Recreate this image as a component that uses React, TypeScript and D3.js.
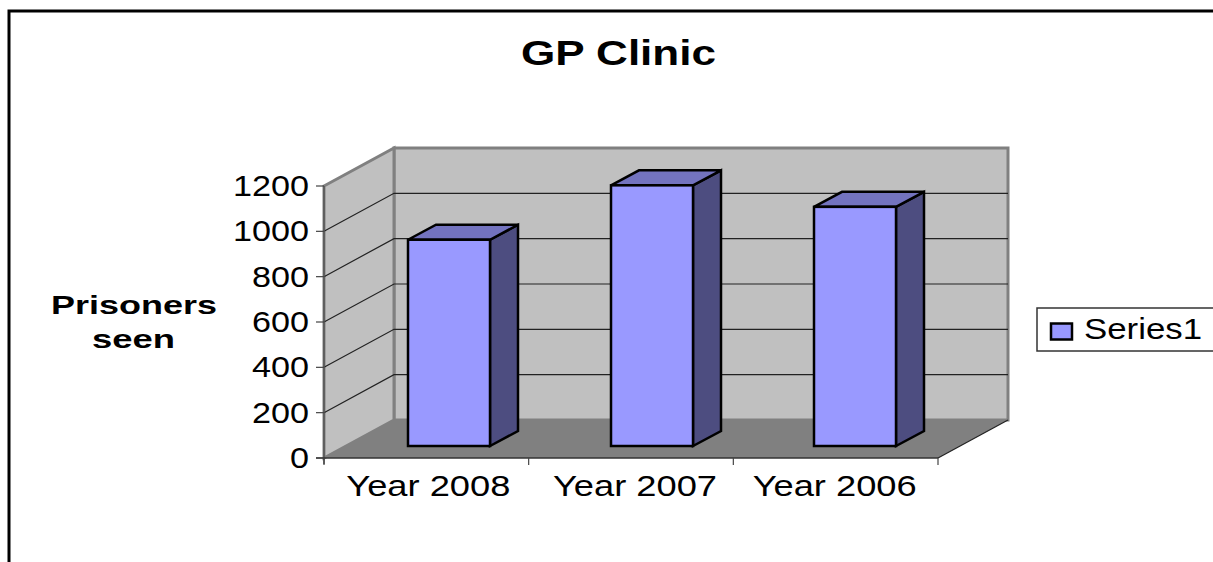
import React from "react";
import * as d3 from "d3";

const categories = ["Year 2008", "Year 2007", "Year 2006"];
const seriesValues = [910, 1150, 1055];
const yTicks = [0, 200, 400, 600, 800, 1000, 1200];
const seriesName = "Series1";

const FONT = "'Liberation Sans', Arial, sans-serif";
const x0 = 324, x1 = 938, yBase = 458, yTop = 186;
const dx = 70, dy = -38;
const barDx = 28, barDy = -15;
const barBase = 446, barW = 82;
const labelNudge = [2, 4, -1];

export default function App() {
  const yFront = d3.scaleLinear().domain([0, 1200]).range([yBase, yTop]);
  const xBand = d3.scaleBand().domain(categories).range([x0, x1]);
  const barCenter = d3.scalePoint().domain(categories).range([449, 855]);
  const pts = (a: number[][]) => a.map((p) => p.join(",")).join(" ");
  const grey = "#808080";
  const stretch = { lengthAdjust: "spacingAndGlyphs" } as any;
  return (
    <svg width={1213} height={562} style={{ position: "absolute", left: 0, top: 0, background: "#fff" }} fontFamily={FONT}>
      {/* outer frame */}
      <path d="M9 562V11H1213" fill="none" stroke="#000" strokeWidth={3} />
      <text x={618.5} y={65} textAnchor="middle" fontSize={35} fontWeight="bold" textLength={195} {...stretch}>GP Clinic</text>

      {/* walls */}
      <polygon points={pts([[x0 + dx, yTop + dy], [x1 + dx, yTop + dy], [x1 + dx, yBase + dy], [x0 + dx, yBase + dy]])} fill="#c0c0c0" stroke={grey} strokeWidth={3} />
      <polygon points={pts([[x0, yTop], [x0 + dx, yTop + dy], [x0 + dx, yBase + dy], [x0, yBase]])} fill="#c0c0c0" stroke={grey} strokeWidth={3} />
      <polygon points={pts([[x0, yBase], [x0 + dx, yBase + dy], [x1 + dx, yBase + dy], [x1, yBase]])} fill="#808080" />
      <line x1={x1} y1={yBase} x2={x1 + dx} y2={yBase + dy} stroke="#222" strokeWidth={1.2} />

      {/* gridlines */}
      {yTicks.slice(1, -1).map((t) => (
        <path key={t} d={`M${x0} ${yFront(t)}L${x0 + dx} ${yFront(t) + dy}H${x1 + dx}`} fill="none" stroke="#222" strokeWidth={1.2} />
      ))}

      {/* axes */}
      <line x1={x0} y1={yTop} x2={x0} y2={yBase + 6} stroke="#555" strokeWidth={1.5} />
      <line x1={x0 - 8} y1={yBase} x2={x1} y2={yBase} stroke="#333" strokeWidth={1.5} />
      {yTicks.map((t) => (
        <g key={t}>
          <line x1={x0 - 8} x2={x0} y1={yFront(t)} y2={yFront(t)} stroke="#444" strokeWidth={1.2} />
          <text x={x0 - 15} y={yFront(t) + 10} textAnchor="end" fontSize={30} textLength={String(t).length * 19} {...stretch}>{t}</text>
        </g>
      ))}
      {[...categories.map((c) => xBand(c)!), x1].map((x) => (
        <line key={x} x1={x} x2={x} y1={yBase} y2={yBase + 7} stroke="#444" strokeWidth={1.2} />
      ))}
      {categories.map((c, i) => (
        <text key={c} x={xBand(c)! + xBand.bandwidth() / 2 + labelNudge[i]} y={496} textAnchor="middle" fontSize={30} textLength={164} {...stretch}>{c}</text>
      ))}

      {/* bars */}
      {categories.map((c, i) => {
        const l = barCenter(c)! - barW / 2;
        const r = l + barW;
        const h = yBase - yFront(seriesValues[i]);
        const t = barBase - h;
        return (
          <g key={c} stroke="#000" strokeWidth={2.5} strokeLinejoin="miter">
            <polygon points={pts([[r, t], [r + barDx, t + barDy], [r + barDx, barBase + barDy], [r, barBase]])} fill="#4d4d80" />
            <polygon points={pts([[l, t], [l + barDx, t + barDy], [r + barDx, t + barDy], [r, t]])} fill="#7373bf" />
            <rect x={l} y={t} width={barW} height={h} fill="#9999ff" />
          </g>
        );
      })}

      {/* y title */}
      <text x={134} y={314} textAnchor="middle" fontSize={26} fontWeight="bold" textLength={166} {...stretch}>Prisoners</text>
      <text x={133.5} y={348} textAnchor="middle" fontSize={26} fontWeight="bold" textLength={83} {...stretch}>seen</text>

      {/* legend */}
      <rect x={1037} y={308} width={180} height={43} fill="#fff" stroke="#333" strokeWidth={1.5} />
      <rect x={1051} y={323.5} width={21} height={16} fill="#9999ff" stroke="#000" strokeWidth={2.5} />
      <text x={1084} y={339} fontSize={29} textLength={118} {...stretch}>{seriesName}</text>
    </svg>
  );
}
